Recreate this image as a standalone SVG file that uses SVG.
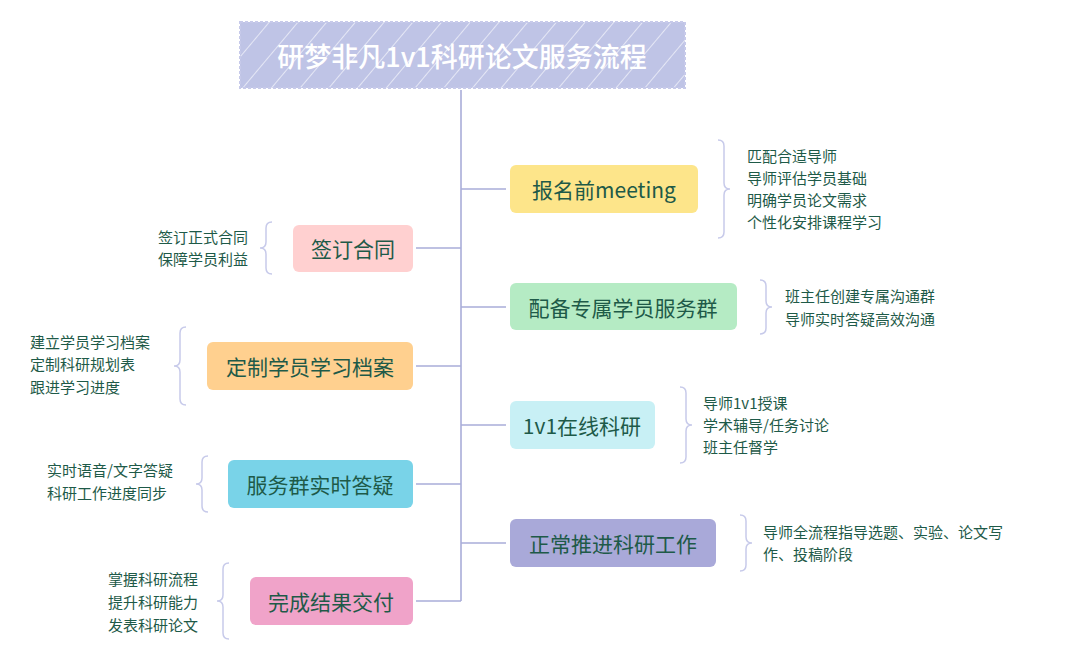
<svg xmlns="http://www.w3.org/2000/svg" width="1080" height="655" viewBox="0 0 1080 655">
<defs>
<pattern id="hatch" width="22" height="22" patternUnits="userSpaceOnUse" patternTransform="rotate(40)">
<rect width="22" height="22" fill="#BFC4E6"/>
<line x1="0" y1="0" x2="0" y2="22" stroke="#ffffff" stroke-width="1.5" opacity="0.8"/>
</pattern>
</defs>
<style>
text{font-family:"Noto Sans CJK SC","Noto Sans",sans-serif;fill:#1E5A48}
.n{font-size:21px;text-anchor:middle;dominant-baseline:central}
.i{font-size:15px}
.r{text-anchor:end}
.c{fill:none;stroke:#A9ADD9;stroke-width:1.6}
.b{fill:none;stroke:#C7CAEA;stroke-width:1.5}
</style>
<rect width="1080" height="655" fill="#fff"/>
<g id="connectors">
<path class="c" d="M461 90V601"/>
<path class="c" d="M461 189H506M461 307H506M461 425H506M461 543H506"/>
<path class="c" d="M416 248H461M416 366H461M416 484H461M416 601H461"/>
<path class="b" d="M718 140q6 0 6 6v37q0 6 6 6q-6 0-6 6v37q0 6-6 6"/>
<path class="b" d="M760 280q6 0 6 6v15q0 6 6 6q-6 0-6 6v15q0 6-6 6"/>
<path class="b" d="M680 387q6 0 6 6v26q0 6 6 6q-6 0-6 6v26q0 6-6 6"/>
<path class="b" d="M740 515q6 0 6 6v16q0 6 6 6q-6 0-6 6v16q0 6-6 6"/>
<path class="b" d="M272 222q-6 0-6 6v14q0 6-6 6q6 0 6 6v14q0 6 6 6"/>
<path class="b" d="M186 327q-6 0-6 6v27q0 6-6 6q6 0 6 6v27q0 6 6 6"/>
<path class="b" d="M208 456q-6 0-6 6v16q0 6-6 6q6 0 6 6v16q0 6 6 6"/>
<path class="b" d="M229 563q-6 0-6 6v26q0 6-6 6q6 0 6 6v26q0 6 6 6"/>
</g>
<g id="title">
<rect x="240" y="22" width="445" height="66" fill="url(#hatch)" stroke="#C7CAEA" stroke-width="2" stroke-dasharray="3 2"/>
<text x="462" y="55" style="font-size:27px;font-weight:500;fill:#fff;text-anchor:middle;dominant-baseline:central">研梦非凡1v1科研论文服务流程</text>
</g>
<g id="n1"><rect x="510" y="165" width="188" height="48" rx="6" fill="#FDE58A"/><text class="n" x="604" y="189">报名前meeting</text>
<text class="i" x="747" y="162">匹配合适导师</text><text class="i" x="747" y="184">导师评估学员基础</text><text class="i" x="747" y="206">明确学员论文需求</text><text class="i" x="747" y="228">个性化安排课程学习</text></g>
<g id="n2"><rect x="293" y="225" width="120" height="47" rx="6" fill="#FFD0D0"/><text class="n" x="353" y="248">签订合同</text>
<text class="i r" x="248" y="243">签订正式合同</text><text class="i r" x="248" y="265">保障学员利益</text></g>
<g id="n3"><rect x="510" y="283" width="227" height="47" rx="6" fill="#B5EBC4"/><text class="n" x="623" y="307">配备专属学员服务群</text>
<text class="i" x="785" y="302">班主任创建专属沟通群</text><text class="i" x="785" y="325">导师实时答疑高效沟通</text></g>
<g id="n4"><rect x="207" y="342" width="206" height="48" rx="6" fill="#FFD08F"/><text class="n" x="310" y="366">定制学员学习档案</text>
<text class="i" x="30" y="348">建立学员学习档案</text><text class="i" x="30" y="370">定制科研规划表</text><text class="i" x="30" y="393">跟进学习进度</text></g>
<g id="n5"><rect x="510" y="401" width="145" height="48" rx="6" fill="#C8F0F5"/><text class="n" x="582" y="425">1v1在线科研</text>
<text class="i" x="703" y="409">导师1v1授课</text><text class="i" x="703" y="431">学术辅导/任务讨论</text><text class="i" x="703" y="453">班主任督学</text></g>
<g id="n6"><rect x="228" y="460" width="185" height="48" rx="6" fill="#79D3E8"/><text class="n" x="320" y="484">服务群实时答疑</text>
<text class="i" x="47" y="476">实时语音/文字答疑</text><text class="i" x="47" y="499">科研工作进度同步</text></g>
<g id="n7"><rect x="510" y="519" width="206" height="48" rx="6" fill="#A9A9D9"/><text class="n" x="613" y="543">正常推进科研工作</text>
<text class="i" x="763" y="538">导师全流程指导选题、实验、论文写</text><text class="i" x="763" y="560">作、投稿阶段</text></g>
<g id="n8"><rect x="250" y="577" width="163" height="48" rx="6" fill="#F0A3C9"/><text class="n" x="331" y="601">完成结果交付</text>
<text class="i" x="108" y="585">掌握科研流程</text><text class="i" x="108" y="608">提升科研能力</text><text class="i" x="108" y="631">发表科研论文</text></g>
</svg>
